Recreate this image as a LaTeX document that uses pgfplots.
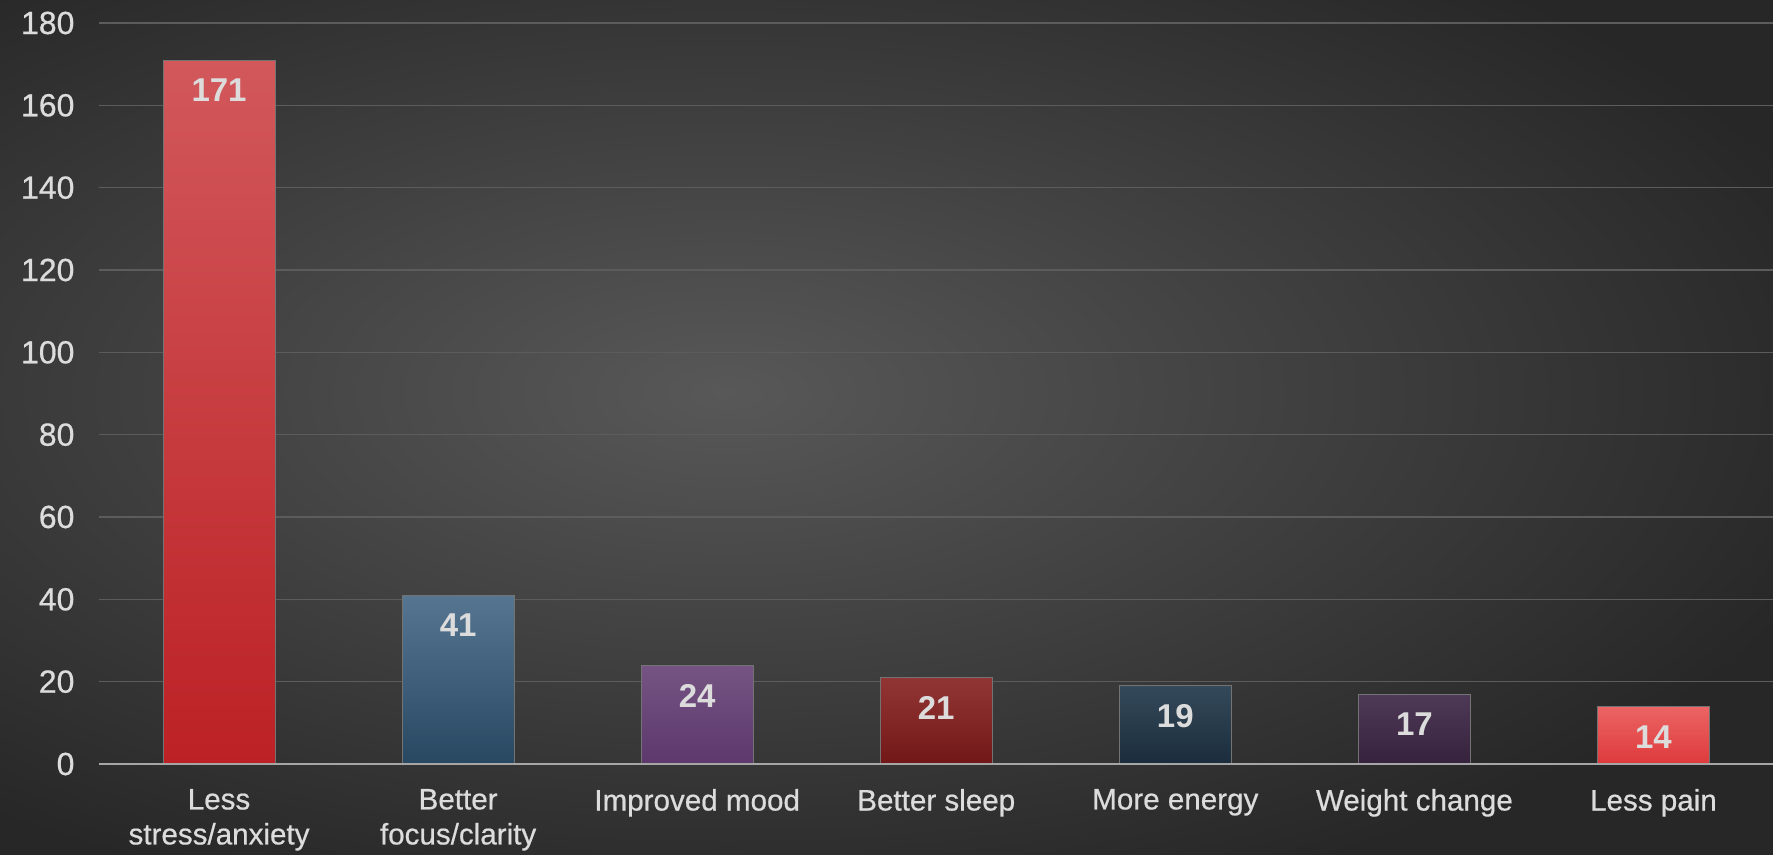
\documentclass[border=0pt]{standalone}
\usepackage{fontspec}
\setmainfont{Liberation Sans}
\newfontfamily\medfont{Liberation Sans}[FakeBold=0.6]
\usepackage{pgfplots}
\pgfplotsset{compat=1.18}

\definecolor{bgin}{HTML}{585858}
\definecolor{bgout}{HTML}{272727}
\definecolor{gridc}{HTML}{5C5C5C}
\definecolor{zeroc}{HTML}{A6A6A6}
\definecolor{txt}{HTML}{DCDCDC}

\definecolor{aT}{HTML}{D2585B}\definecolor{aB}{HTML}{BC2125}
\definecolor{bT}{HTML}{557591}\definecolor{bB}{HTML}{284862}
\definecolor{cT}{HTML}{755483}\definecolor{cB}{HTML}{5C386C}
\definecolor{dT}{HTML}{923535}\definecolor{dB}{HTML}{721717}
\definecolor{eT}{HTML}{34495A}\definecolor{eB}{HTML}{1B2D3C}
\definecolor{fT}{HTML}{4E3A56}\definecolor{fB}{HTML}{36223D}
\definecolor{gT}{HTML}{EC6464}\definecolor{gB}{HTML}{DE3A3C}

\begin{document}
\begin{tikzpicture}
\useasboundingbox (0,0) rectangle (886.5pt,427.5pt);
\begin{scope}
  \clip (0,0) rectangle (886.5pt,427.5pt);
  \shade[inner color=bgin, outer color=bgout] (-220pt,-40pt) rectangle (946pt,502pt);
\end{scope}
\begin{axis}[
  at={(49.75pt,45.5pt)}, anchor=south west,
  scale only axis, width=836.75pt, height=370.5pt,
  ymin=0, ymax=180, ytick={0,20,...,180},
  xmin=-0.5, xmax=6.5, xtick={0,...,6},
  xticklabels={{Less\\stress/anxiety},{Better\\focus/clarity},{Improved mood},{Better sleep},{More energy},{Weight change},{Less pain}},
  axis line style={draw=none},
  major tick length=0pt,
  ymajorgrids, grid style={color=gridc, line width=0.6pt},
  /pgf/number format/assume math mode=true,
  yticklabel style={font=\medfont\fontsize{16}{18}\selectfont, text=txt, xshift=-9pt},
  xticklabel style={font=\medfont\fontsize{14.8}{17.5}\selectfont, text=txt, align=center, anchor=north, yshift=-9pt},
  bar width=56pt,
  every node near coord/.append style={font=\bfseries\fontsize{16.5}{19}\selectfont, text=txt, anchor=north, yshift=-6pt},
  clip=false,
]
\addplot[ybar, bar shift=0pt, draw=black!55, top color=aT, bottom color=aB, nodes near coords] coordinates {(0,171)};
\addplot[ybar, bar shift=0pt, draw=black!55, top color=bT, bottom color=bB, nodes near coords] coordinates {(1,41)};
\addplot[ybar, bar shift=0pt, draw=black!55, top color=cT, bottom color=cB, nodes near coords] coordinates {(2,24)};
\addplot[ybar, bar shift=0pt, draw=black!55, top color=dT, bottom color=dB, nodes near coords] coordinates {(3,21)};
\addplot[ybar, bar shift=0pt, draw=black!55, top color=eT, bottom color=eB, nodes near coords] coordinates {(4,19)};
\addplot[ybar, bar shift=0pt, draw=black!55, top color=fT, bottom color=fB, nodes near coords] coordinates {(5,17)};
\addplot[ybar, bar shift=0pt, draw=black!55, top color=gT, bottom color=gB, nodes near coords] coordinates {(6,14)};
\draw[zeroc, line width=1pt] (axis cs:-0.5,0) -- (axis cs:6.5,0);
\end{axis}
\end{tikzpicture}
\end{document}
